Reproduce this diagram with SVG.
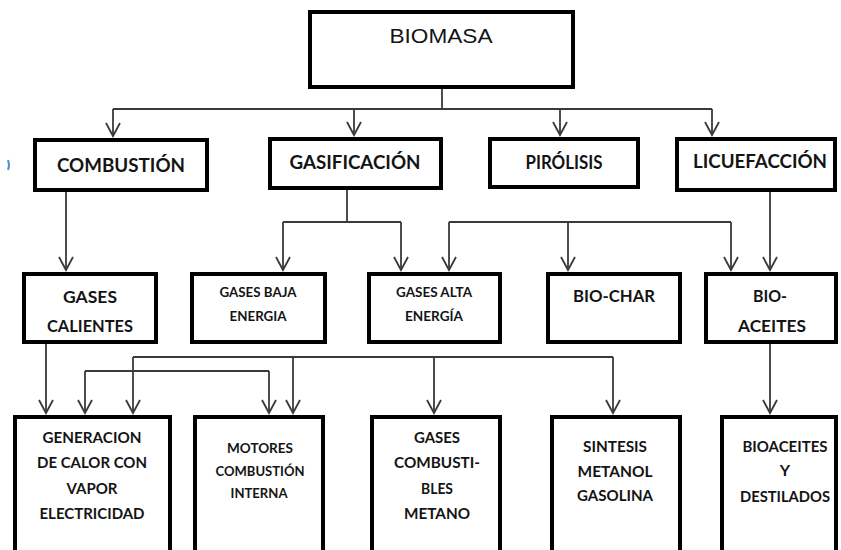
<svg xmlns="http://www.w3.org/2000/svg" width="841" height="550" viewBox="0 0 841 550">
<style>
.box{fill:#fff;stroke:#000;stroke-width:4}
.t{font-family:"Lato","Open Sans",sans-serif;font-weight:bold;fill:#141414;text-anchor:middle}
.t1{font-size:19px}
.t2{font-size:17px}
.t3{font-size:14px}
.t4{font-size:15px}
.t5{font-size:16px}
.c{fill:none;stroke:#3a3a3a;stroke-width:1.8}
</style>
<defs>
<marker id="v" markerUnits="userSpaceOnUse" orient="auto" refX="0" refY="0" markerWidth="20" markerHeight="20" style="overflow:visible">
<path d="M-13,-7 L0,0 L-13,7" fill="none" stroke="#3a3a3a" stroke-width="1.8"/>
</marker>
</defs>
<rect width="841" height="550" fill="#fff"/>
<path d="M8,160 Q10,165 8,170" fill="none" stroke="#4a90d9" stroke-width="2"/>

<g id="connectors">
<path class="c" d="M442,88 V109"/>
<path class="c" d="M113,109 H712"/>
<path class="c" d="M113,109 V136" marker-end="url(#v)"/>
<path class="c" d="M354,109 V135" marker-end="url(#v)"/>
<path class="c" d="M560,109 V135" marker-end="url(#v)"/>
<path class="c" d="M712,109 V135" marker-end="url(#v)"/>
<path class="c" d="M66,192 V270" marker-end="url(#v)"/>
<path class="c" d="M347,189 V222 M283,222 H401"/>
<path class="c" d="M283,222 V270" marker-end="url(#v)"/>
<path class="c" d="M401,222 V270" marker-end="url(#v)"/>
<path class="c" d="M449,222 H731"/>
<path class="c" d="M449,222 V270" marker-end="url(#v)"/>
<path class="c" d="M568,222 V270" marker-end="url(#v)"/>
<path class="c" d="M731,222 V270" marker-end="url(#v)"/>
<path class="c" d="M770,192 V270" marker-end="url(#v)"/>
<path class="c" d="M46,344 V413" marker-end="url(#v)"/>
<path class="c" d="M133,357 H613"/>
<path class="c" d="M133,357 V413" marker-end="url(#v)"/>
<path class="c" d="M293,357 V413" marker-end="url(#v)"/>
<path class="c" d="M434,357 V413" marker-end="url(#v)"/>
<path class="c" d="M613,357 V413" marker-end="url(#v)"/>
<path class="c" d="M85,371 H269"/>
<path class="c" d="M85,371 V413" marker-end="url(#v)"/>
<path class="c" d="M269,371 V413" marker-end="url(#v)"/>
<path class="c" d="M770,344 V413" marker-end="url(#v)"/>
</g>

<g id="biomasa">
<rect class="box" x="310" y="12" width="263" height="75"/>
<text x="441" y="43" font-family="Liberation Sans, Arial, sans-serif" font-size="21" fill="#141414" text-anchor="middle" textLength="103" lengthAdjust="spacingAndGlyphs">BIOMASA</text>
</g>

<g id="combustion">
<rect class="box" x="35" y="140" width="172" height="50"/>
<text class="t t1" x="121" y="172" textLength="128" lengthAdjust="spacingAndGlyphs">COMBUSTIÓN</text>
</g>
<g id="gasificacion">
<rect class="box" x="270" y="139" width="171" height="49"/>
<text class="t t1" x="355" y="169" textLength="131" lengthAdjust="spacingAndGlyphs">GASIFICACIÓN</text>
</g>
<g id="pirolisis">
<rect class="box" x="490" y="139" width="148" height="48"/>
<text class="t t1" x="564" y="169" textLength="77" lengthAdjust="spacingAndGlyphs">PIRÓLISIS</text>
</g>
<g id="licuefaccion">
<rect class="box" x="677" y="139" width="158" height="51"/>
<text class="t t1" x="760" y="168" textLength="134" lengthAdjust="spacingAndGlyphs">LICUEFACCIÓN</text>
</g>

<g id="gases-calientes">
<rect class="box" x="24" y="274" width="132" height="68"/>
<text class="t t2" x="90" y="303" textLength="54" lengthAdjust="spacingAndGlyphs">GASES</text>
<text class="t t2" x="90" y="332" textLength="86" lengthAdjust="spacingAndGlyphs">CALIENTES</text>
</g>
<g id="gases-baja">
<rect class="box" x="192" y="274" width="133" height="68"/>
<text class="t t3" x="258" y="297" textLength="77" lengthAdjust="spacingAndGlyphs">GASES BAJA</text>
<text class="t t3" x="258" y="321" textLength="57" lengthAdjust="spacingAndGlyphs">ENERGIA</text>
</g>
<g id="gases-alta">
<rect class="box" x="369" y="274" width="131" height="68"/>
<text class="t t3" x="434" y="297" textLength="76" lengthAdjust="spacingAndGlyphs">GASES ALTA</text>
<text class="t t3" x="434" y="321" textLength="58" lengthAdjust="spacingAndGlyphs">ENERGÍA</text>
</g>
<g id="bio-char">
<rect class="box" x="548" y="274" width="132" height="68"/>
<text class="t t2" x="614" y="302" textLength="82" lengthAdjust="spacingAndGlyphs">BIO-CHAR</text>
</g>
<g id="bio-aceites">
<rect class="box" x="706" y="274" width="130" height="68"/>
<text class="t t2" x="770" y="302" textLength="34" lengthAdjust="spacingAndGlyphs">BIO-</text>
<text class="t t2" x="772" y="332" textLength="68" lengthAdjust="spacingAndGlyphs">ACEITES</text>
</g>

<g id="generacion">
<rect class="box" x="15" y="417" width="155" height="150"/>
<text class="t t4" x="92" y="443" textLength="99" lengthAdjust="spacingAndGlyphs">GENERACION</text>
<text class="t t4" x="92" y="468" textLength="110" lengthAdjust="spacingAndGlyphs">DE CALOR CON</text>
<text class="t t4" x="92" y="494" textLength="51" lengthAdjust="spacingAndGlyphs">VAPOR</text>
<text class="t t4" x="92" y="519" textLength="105" lengthAdjust="spacingAndGlyphs">ELECTRICIDAD</text>
</g>
<g id="motores">
<rect class="box" x="195" y="417" width="128" height="150"/>
<text class="t t3" x="260" y="453" textLength="66" lengthAdjust="spacingAndGlyphs">MOTORES</text>
<text class="t t3" x="260" y="476" textLength="89" lengthAdjust="spacingAndGlyphs">COMBUSTIÓN</text>
<text class="t t3" x="259" y="498" textLength="57" lengthAdjust="spacingAndGlyphs">INTERNA</text>
</g>
<g id="gases-combustibles">
<rect class="box" x="372" y="417" width="128" height="150"/>
<text class="t t5" x="437" y="443" textLength="46" lengthAdjust="spacingAndGlyphs">GASES</text>
<text class="t t5" x="437" y="468" textLength="86" lengthAdjust="spacingAndGlyphs">COMBUSTI-</text>
<text class="t t5" x="437" y="494" textLength="32" lengthAdjust="spacingAndGlyphs">BLES</text>
<text class="t t5" x="437" y="519" textLength="66" lengthAdjust="spacingAndGlyphs">METANO</text>
</g>
<g id="sintesis">
<rect class="box" x="552" y="417" width="128" height="150"/>
<text class="t t5" x="615" y="452" textLength="64" lengthAdjust="spacingAndGlyphs">SINTESIS</text>
<text class="t t5" x="615" y="477" textLength="75" lengthAdjust="spacingAndGlyphs">METANOL</text>
<text class="t t5" x="615" y="501" textLength="76" lengthAdjust="spacingAndGlyphs">GASOLINA</text>
</g>
<g id="bioaceites-destilados">
<rect class="box" x="722" y="417" width="114" height="150"/>
<text class="t t5" x="785" y="452" textLength="85" lengthAdjust="spacingAndGlyphs">BIOACEITES</text>
<text class="t t5" x="785" y="476">Y</text>
<text class="t t5" x="785" y="502" textLength="90" lengthAdjust="spacingAndGlyphs">DESTILADOS</text>
</g>
</svg>
